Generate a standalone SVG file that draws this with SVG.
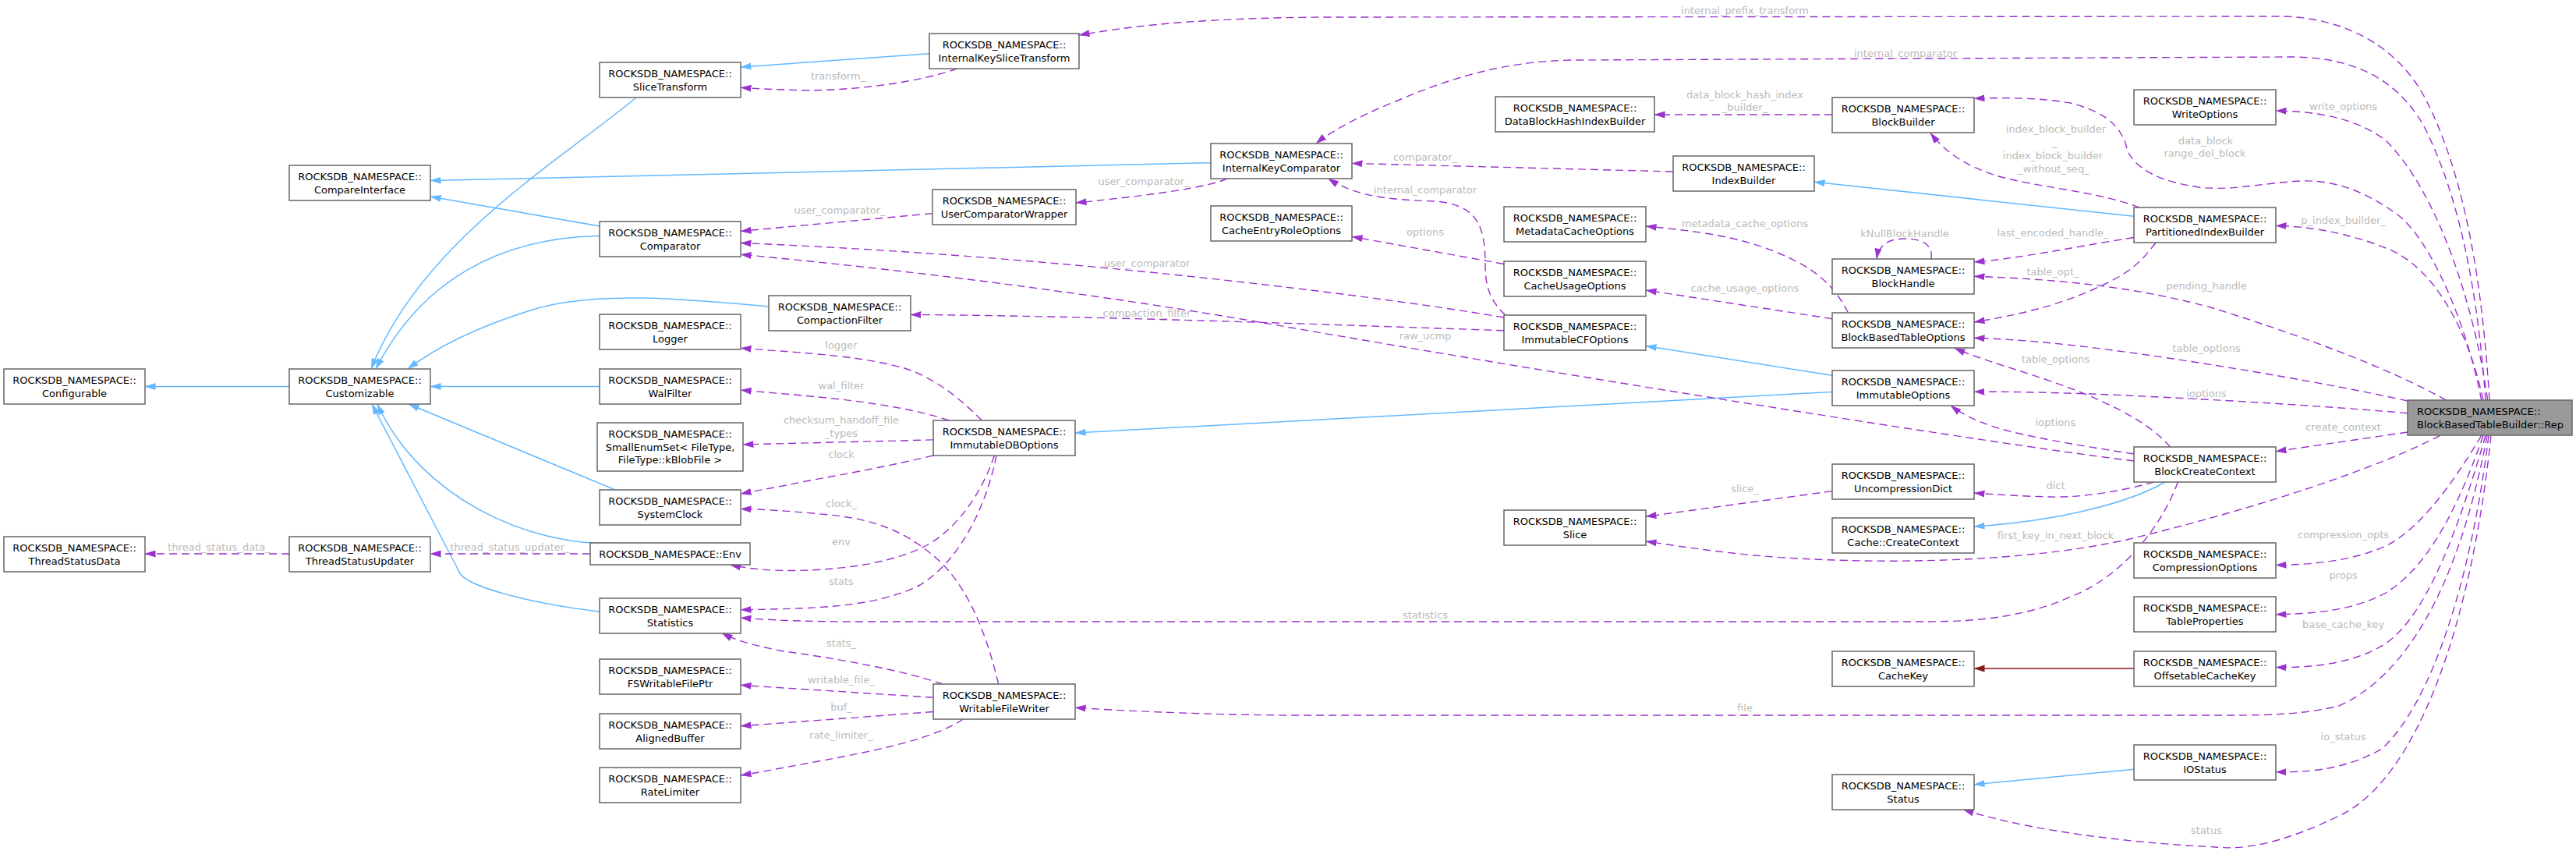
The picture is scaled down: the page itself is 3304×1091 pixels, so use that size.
<svg xmlns="http://www.w3.org/2000/svg" width="3304" height="1091" viewBox="0 0 3304 1091">
<style>
.n rect{fill:#fff;stroke:#666;stroke-width:1.5}
.rep rect{fill:#999;stroke:#666;stroke-width:1.5}
text{font-family:"DejaVu Sans","Liberation Sans",sans-serif;font-size:13px}
.n text,.rep text{fill:#000;text-anchor:middle}
.rep text{text-anchor:start}
.l{fill:#bababa;text-anchor:middle}
.u{fill:none;stroke:#9a32cd;stroke-width:1.4;stroke-dasharray:10,6;marker-end:url(#ap)}
.i{fill:none;stroke:#63b8ff;stroke-width:1.5;marker-end:url(#ab)}
.r{fill:none;stroke:#8b1a1a;stroke-width:1.5;marker-end:url(#ar)}
</style>
<defs>
<marker id="ap" viewBox="0 0 14 10" refX="13.5" refY="5" markerWidth="14" markerHeight="10" markerUnits="userSpaceOnUse" orient="auto"><path d="M0,0.5 L14,5 L0,9.5 z" fill="#9a32cd"/></marker>
<marker id="ab" viewBox="0 0 14 10" refX="13.5" refY="5" markerWidth="14" markerHeight="10" markerUnits="userSpaceOnUse" orient="auto"><path d="M0,0.5 L14,5 L0,9.5 z" fill="#63b8ff"/></marker>
<marker id="ar" viewBox="0 0 14 10" refX="13.5" refY="5" markerWidth="14" markerHeight="10" markerUnits="userSpaceOnUse" orient="auto"><path d="M0,0.5 L14,5 L0,9.5 z" fill="#8b1a1a"/></marker>
</defs>
<rect width="3304" height="1091" fill="#fff"/>
<g id="edges">
<path class="i" d="M371,495.5 L186,495.5"/>
<path class="i" d="M816,125 C 720,205 540,310 476,473"/>
<path class="i" d="M769,290 L552,252"/>
<path class="i" d="M1553,208.7 L552,231.5"/>
<path class="i" d="M769,302.4 C 640,305 540,360 482,473"/>
<path class="i" d="M986,393 C 880,383 760,372 680,398 C 610,420 560,445 523,473"/>
<path class="i" d="M769,495.5 L552,495.5"/>
<path class="i" d="M789,628 L524,518"/>
<path class="i" d="M787,696.4 C 680,700 540,640 484,518"/>
<path class="i" d="M769,784 C 680,774 600,752 590,735 L477,518"/>
<path class="i" d="M1192,68.8 L950,86"/>
<path class="i" d="M2737,277.3 L2327,233.3"/>
<path class="i" d="M2350,481.3 L2111,443.5"/>
<path class="i" d="M2350,502.4 L1379,555"/>
<path class="i" d="M2777,618 C 2730,645 2640,668 2532,675"/>
<path class="i" d="M2737,986.3 L2532,1005.8"/>
<path class="r" d="M2737,857 L2532,857"/>

<path class="u" d="M3193,513 C 3185,380 3165,230 3110,125 C 3075,60 3010,24 2930,21 L1700,22 C 1560,23 1470,30 1384,45"/>
<text class="l" x="2238" y="18">internal_prefix_transform</text>
<path class="u" d="M3188,513 C 3180,400 3160,260 3108,160 C 3070,95 3010,73 2938,73 L2020,77 C 1930,78 1860,100 1790,130 C 1740,150 1705,170 1688,184"/>
<text class="l" x="2444" y="72.5">internal_comparator</text>
<path class="u" d="M1574,229 C 1550,240 1480,250 1380,260"/>
<text class="l" x="1467" y="236.5">user_comparator_</text>
<path class="u" d="M1196,273.6 L950,296.4"/>
<text class="l" x="1077" y="273.5">user_comparator_</text>
<path class="u" d="M1929,407 C 1800,385 1400,330 950,311.5"/>
<text class="l" x="1471" y="342">user_comparator</text>
<path class="u" d="M1929,423.8 C 1700,416 1400,405 1168,403.4"/>
<text class="l" x="1471" y="405.5">compaction_filter</text>
<path class="u" d="M2737,591 C 2550,568 2000,480 1650,419 C 1400,375 1150,345 950,326.2"/>
<text class="l" x="1828" y="435">raw_ucmp</text>
<path class="u" d="M1931,404 C 1910,385 1905,365 1905,340 C 1905,290 1895,262 1840,258 C 1780,256 1740,252 1703.5,229"/>
<text class="l" x="1828" y="248">internal_comparator</text>
<path class="u" d="M1929,338.5 L1734,303.4"/>
<text class="l" x="1828" y="302">options</text>
<path class="u" d="M2370.5,401 C 2350,360 2320,340 2275,322 C 2220,300 2160,295 2111,290"/>
<text class="l" x="2238" y="290.5">metadata_cache_options</text>
<path class="u" d="M2350,408.7 L2111,372"/>
<text class="l" x="2238" y="374">cache_usage_options</text>
<path class="u" d="M2350,147 L2122,147"/>
<text class="l" x="2238" y="125.5">data_block_hash_index</text>
<text class="l" x="2238" y="142">_builder_</text>
<path class="u" d="M2146,220 L1734,209.4"/>
<text class="l" x="1828" y="205.5">comparator_</text>
<path class="u" d="M2477,332 C 2480,310 2460,306 2443,306 C 2425,306 2410,312 2407,332"/>
<text class="l" x="2443" y="303.5">kNullBlockHandle</text>
<path class="u" d="M2744,266 C 2690,245 2610,240 2560,225 C 2520,212 2495,195 2476,170.5"/>
<text class="l" x="2637" y="169.5">index_block_builder</text>
<text class="l" x="2635" y="186.5">_</text>
<text class="l" x="2633" y="203.5">index_block_builder</text>
<text class="l" x="2634" y="220.5">_without_seq_</text>
<path class="u" d="M3182.7,513 C 3165,420 3120,310 3075,275 C 3040,250 3000,230 2950,232 C 2900,235 2860,245 2820,240 C 2770,233 2735,215 2728,190 C 2720,160 2700,145 2660,133 C 2620,125 2570,125 2532,126.3"/>
<text class="l" x="2829" y="184.5">data_block</text>
<text class="l" x="2828" y="201">range_del_block</text>
<path class="u" d="M2737,304.5 C 2650,318 2600,330 2532,336"/>
<text class="l" x="2633" y="302.5">last_encoded_handle_</text>
<path class="u" d="M2765,311 C 2740,345 2720,355 2682.8,372 C 2630,395 2580,405 2532,413"/>
<text class="l" x="2633" y="352.5">table_opt_</text>
<path class="u" d="M3137.5,513 C 3060,470 2950,430 2842,396 C 2750,370 2650,358 2532,354.3"/>
<text class="l" x="2830" y="370.5">pending_handle</text>
<path class="u" d="M3088,514 C 2980,490 2800,460 2682.8,445.5 C 2620,438 2580,435 2532,433.2"/>
<text class="l" x="2830" y="451">table_options</text>
<path class="u" d="M3088,529.7 C 2950,518 2800,510 2682.8,505 C 2620,503 2580,502 2532,502.3"/>
<text class="l" x="2830" y="508.5">ioptions</text>
<path class="u" d="M3088,554 L2919,578.7"/>
<text class="l" x="3005.6" y="552">create_context</text>
<path class="u" d="M2762.6,618 C 2720,630 2670,638 2629.6,637 C 2590,636 2560,634 2532,632"/>
<text class="l" x="2636.5" y="627">dict</text>
<path class="u" d="M3129.6,558.3 C 3050,600 2900,650 2736,690 C 2600,722 2400,725 2250,712 C 2180,705 2140,698 2111,694"/>
<text class="l" x="2636.5" y="690.5">first_key_in_next_block</text>
<path class="u" d="M2793.4,618 C 2770,680 2720,740 2656,765 C 2600,790 2540,797 2470,797 L1100,797 C 1030,797 990,795 950,792"/>
<text class="l" x="1828" y="792.5">statistics</text>
<path class="u" d="M3182.7,558.3 C 3140,630 3100,680 3060,700 C 3020,718 2970,724 2919,724.5"/>
<text class="l" x="3005.6" y="690">compression_opts</text>
<path class="u" d="M3185,558.3 C 3150,660 3110,730 3060,760 C 3020,782 2970,787 2919,787.7"/>
<text class="l" x="3005.6" y="742">props</text>
<path class="u" d="M3188,558.3 C 3150,690 3110,790 3060,825 C 3020,850 2970,856 2919,855.6"/>
<text class="l" x="3005.6" y="804.5">base_cache_key</text>
<path class="u" d="M3190,558.3 C 3160,720 3100,860 3000,905 C 2950,917 2900,917 2850,917 L1650,917 C 1550,916 1450,912 1379,907.2"/>
<text class="l" x="2238" y="912">file</text>
<path class="u" d="M3192,558.3 C 3170,740 3120,900 3055,960 C 3010,985 2970,990 2919,989.8"/>
<text class="l" x="3005.6" y="948.5">io_status</text>
<path class="u" d="M3195,558.3 C 3170,800 3100,1000 3000,1046 C 2930,1080 2880,1090 2842,1086 C 2760,1082 2620,1070 2518,1038"/>
<text class="l" x="2830" y="1069">status</text>
<path class="u" d="M3190.7,513 C 3175,400 3130,250 3060,180 C 3020,150 2970,143 2919,142"/>
<text class="l" x="3005.6" y="141">write_options</text>
<path class="u" d="M3185,513 C 3165,420 3120,340 3060,318 C 3010,298 2960,290 2919,289.4"/>
<text class="l" x="3005.6" y="287">p_index_builder_</text>
<path class="u" d="M2737,582 C 2660,570 2600,560 2560,548 C 2535,540 2515,530 2502,520"/>
<text class="l" x="2636.5" y="545.5">ioptions</text>
<path class="u" d="M2783.8,573.4 C 2760,545 2720,525 2682.8,508.7 C 2620,482 2550,465 2507,446.5"/>
<text class="l" x="2636.5" y="464.5">table_options</text>
<path class="u" d="M2350,629.6 L2111,662.3"/>
<text class="l" x="2238" y="630.5">slice_</text>
<path class="u" d="M1227.6,88 C 1180,105 1100,116 1031.8,115.8 C 1000,115 975,114 950,112.3"/>
<text class="l" x="1075" y="102">transform_</text>
<path class="u" d="M1259.4,539 C 1230,510 1200,485 1160,472 C 1100,455 1020,452 950,446.2"/>
<text class="l" x="1079" y="447">logger</text>
<path class="u" d="M1217,539 C 1180,526 1120,516 1060,510 C 1010,505 980,503 950,500"/>
<text class="l" x="1079" y="498.5">wal_filter</text>
<path class="u" d="M1197,563.9 L953,569.9"/>
<text class="l" x="1079" y="543">checksum_handoff_file</text>
<text class="l" x="1079" y="560">_types</text>
<path class="u" d="M1197,584 C 1130,600 1060,612 1031.8,617.3 C 1000,624 975,628 950,633.1"/>
<text class="l" x="1079" y="587">clock</text>
<path class="u" d="M1280.6,877 C 1265,810 1240,750 1201,715.7 C 1160,680 1120,665 1058,659.5 C 1010,655 980,653 950,652.4"/>
<text class="l" x="1079" y="650">clock_</text>
<path class="u" d="M1275.3,584 C 1260,630 1230,675 1190.6,698 C 1150,720 1090,730 1021,731.5 C 985,732 960,729 936.5,724"/>
<text class="l" x="1079" y="699">env</text>
<path class="u" d="M1278,584 C 1265,650 1230,720 1180,750 C 1120,780 1040,780 950,781.8"/>
<text class="l" x="1079" y="750">stats</text>
<path class="u" d="M1209,877 C 1160,860 1080,845 1005,835 C 970,828 945,822 926,811.5"/>
<text class="l" x="1079" y="828.5">stats_</text>
<path class="u" d="M1197,894.2 L950,878.4"/>
<text class="l" x="1079" y="876">writable_file_</text>
<path class="u" d="M1197,912.5 L950,930.8"/>
<text class="l" x="1079" y="910.5">buf_</text>
<path class="u" d="M1235.6,922 C 1200,945 1140,960 1031.8,979.2 C 1000,985 975,990 950,994"/>
<text class="l" x="1079" y="947">rate_limiter_</text>
<path class="u" d="M757,710 L552,710"/>
<text class="l" x="654" y="706">thread_status_updater_</text>
<path class="u" d="M371,710 L186,710"/>
<text class="l" x="281" y="706">thread_status_data_</text>
</g>

<g id="n_Configurable" class="n"><rect x="5" y="473" width="181" height="45"/><text x="95.5" y="492">ROCKSDB_NAMESPACE::</text><text x="95.5" y="508.5">Configurable</text></g>
<g id="n_Customizable" class="n"><rect x="371" y="473" width="181" height="45"/><text x="461.5" y="492">ROCKSDB_NAMESPACE::</text><text x="461.5" y="508.5">Customizable</text></g>
<g id="n_CompareInterface" class="n"><rect x="371" y="212" width="181" height="45"/><text x="461.5" y="231">ROCKSDB_NAMESPACE::</text><text x="461.5" y="247.5">CompareInterface</text></g>
<g id="n_ThreadStatusData" class="n"><rect x="5" y="688" width="181" height="45"/><text x="95.5" y="707">ROCKSDB_NAMESPACE::</text><text x="95.5" y="723.5">ThreadStatusData</text></g>
<g id="n_ThreadStatusUpdater" class="n"><rect x="371" y="688" width="181" height="45"/><text x="461.5" y="707">ROCKSDB_NAMESPACE::</text><text x="461.5" y="723.5">ThreadStatusUpdater</text></g>
<g id="n_SliceTransform" class="n"><rect x="769" y="80" width="181" height="45"/><text x="859.5" y="99">ROCKSDB_NAMESPACE::</text><text x="859.5" y="115.5">SliceTransform</text></g>
<g id="n_Comparator" class="n"><rect x="769" y="284" width="181" height="45"/><text x="859.5" y="303">ROCKSDB_NAMESPACE::</text><text x="859.5" y="319.5">Comparator</text></g>
<g id="n_Logger" class="n"><rect x="769" y="403" width="181" height="45"/><text x="859.5" y="422">ROCKSDB_NAMESPACE::</text><text x="859.5" y="438.5">Logger</text></g>
<g id="n_WalFilter" class="n"><rect x="769" y="473" width="181" height="45"/><text x="859.5" y="492">ROCKSDB_NAMESPACE::</text><text x="859.5" y="508.5">WalFilter</text></g>
<g id="n_SmallEnumSet" class="n"><rect x="766" y="542" width="187" height="62"/><text x="859.5" y="561">ROCKSDB_NAMESPACE::</text><text x="859.5" y="577.5">SmallEnumSet&lt; FileType,</text><text x="859.5" y="594">FileType::kBlobFile &gt;</text></g>
<g id="n_SystemClock" class="n"><rect x="769" y="628" width="181" height="45"/><text x="859.5" y="647">ROCKSDB_NAMESPACE::</text><text x="859.5" y="663.5">SystemClock</text></g>
<g id="n_Env" class="n"><rect x="757" y="696" width="205" height="28"/><text x="859.5" y="714.5">ROCKSDB_NAMESPACE::Env</text></g>
<g id="n_Statistics" class="n"><rect x="769" y="767" width="181" height="45"/><text x="859.5" y="786">ROCKSDB_NAMESPACE::</text><text x="859.5" y="802.5">Statistics</text></g>
<g id="n_FSWritableFilePtr" class="n"><rect x="769" y="845" width="181" height="45"/><text x="859.5" y="864">ROCKSDB_NAMESPACE::</text><text x="859.5" y="880.5">FSWritableFilePtr</text></g>
<g id="n_AlignedBuffer" class="n"><rect x="769" y="915" width="181" height="45"/><text x="859.5" y="934">ROCKSDB_NAMESPACE::</text><text x="859.5" y="950.5">AlignedBuffer</text></g>
<g id="n_RateLimiter" class="n"><rect x="769" y="984" width="181" height="45"/><text x="859.5" y="1003">ROCKSDB_NAMESPACE::</text><text x="859.5" y="1019.5">RateLimiter</text></g>
<g id="n_InternalKeySliceTransform" class="n"><rect x="1192" y="43" width="192" height="45"/><text x="1288" y="62">ROCKSDB_NAMESPACE::</text><text x="1288" y="78.5">InternalKeySliceTransform</text></g>
<g id="n_UserComparatorWrapper" class="n"><rect x="1196" y="243" width="184" height="45"/><text x="1288" y="262">ROCKSDB_NAMESPACE::</text><text x="1288" y="278.5">UserComparatorWrapper</text></g>
<g id="n_CompactionFilter" class="n"><rect x="986" y="379" width="182" height="45"/><text x="1077" y="398">ROCKSDB_NAMESPACE::</text><text x="1077" y="414.5">CompactionFilter</text></g>
<g id="n_ImmutableDBOptions" class="n"><rect x="1197" y="539" width="182" height="45"/><text x="1288" y="558">ROCKSDB_NAMESPACE::</text><text x="1288" y="574.5">ImmutableDBOptions</text></g>
<g id="n_WritableFileWriter" class="n"><rect x="1197" y="877" width="182" height="45"/><text x="1288" y="896">ROCKSDB_NAMESPACE::</text><text x="1288" y="912.5">WritableFileWriter</text></g>
<g id="n_InternalKeyComparator" class="n"><rect x="1553" y="184" width="181" height="45"/><text x="1643.5" y="203">ROCKSDB_NAMESPACE::</text><text x="1643.5" y="219.5">InternalKeyComparator</text></g>
<g id="n_CacheEntryRoleOptions" class="n"><rect x="1553" y="264" width="181" height="45"/><text x="1643.5" y="283">ROCKSDB_NAMESPACE::</text><text x="1643.5" y="299.5">CacheEntryRoleOptions</text></g>
<g id="n_DataBlockHashIndexBuilder" class="n"><rect x="1918" y="124" width="204" height="45"/><text x="2020" y="143">ROCKSDB_NAMESPACE::</text><text x="2020" y="159.5">DataBlockHashIndexBuilder</text></g>
<g id="n_IndexBuilder" class="n"><rect x="2146" y="200" width="181" height="45"/><text x="2236.5" y="219">ROCKSDB_NAMESPACE::</text><text x="2236.5" y="235.5">IndexBuilder</text></g>
<g id="n_MetadataCacheOptions" class="n"><rect x="1929" y="265" width="182" height="45"/><text x="2020" y="284">ROCKSDB_NAMESPACE::</text><text x="2020" y="300.5">MetadataCacheOptions</text></g>
<g id="n_CacheUsageOptions" class="n"><rect x="1929" y="335" width="182" height="45"/><text x="2020" y="354">ROCKSDB_NAMESPACE::</text><text x="2020" y="370.5">CacheUsageOptions</text></g>
<g id="n_ImmutableCFOptions" class="n"><rect x="1929" y="404" width="182" height="45"/><text x="2020" y="423">ROCKSDB_NAMESPACE::</text><text x="2020" y="439.5">ImmutableCFOptions</text></g>
<g id="n_Slice" class="n"><rect x="1929" y="654" width="182" height="45"/><text x="2020" y="673">ROCKSDB_NAMESPACE::</text><text x="2020" y="689.5">Slice</text></g>
<g id="n_BlockBuilder" class="n"><rect x="2350" y="125" width="182" height="45"/><text x="2441" y="144">ROCKSDB_NAMESPACE::</text><text x="2441" y="160.5">BlockBuilder</text></g>
<g id="n_BlockHandle" class="n"><rect x="2350" y="332" width="182" height="45"/><text x="2441" y="351">ROCKSDB_NAMESPACE::</text><text x="2441" y="367.5">BlockHandle</text></g>
<g id="n_BlockBasedTableOptions" class="n"><rect x="2350" y="401" width="182" height="45"/><text x="2441" y="420">ROCKSDB_NAMESPACE::</text><text x="2441" y="436.5">BlockBasedTableOptions</text></g>
<g id="n_ImmutableOptions" class="n"><rect x="2350" y="475" width="182" height="45"/><text x="2441" y="494">ROCKSDB_NAMESPACE::</text><text x="2441" y="510.5">ImmutableOptions</text></g>
<g id="n_UncompressionDict" class="n"><rect x="2350" y="595" width="182" height="45"/><text x="2441" y="614">ROCKSDB_NAMESPACE::</text><text x="2441" y="630.5">UncompressionDict</text></g>
<g id="n_CreateContext" class="n"><rect x="2350" y="664" width="182" height="45"/><text x="2441" y="683">ROCKSDB_NAMESPACE::</text><text x="2441" y="699.5">Cache::CreateContext</text></g>
<g id="n_CacheKey" class="n"><rect x="2350" y="835" width="182" height="45"/><text x="2441" y="854">ROCKSDB_NAMESPACE::</text><text x="2441" y="870.5">CacheKey</text></g>
<g id="n_Status" class="n"><rect x="2350" y="993" width="182" height="45"/><text x="2441" y="1012">ROCKSDB_NAMESPACE::</text><text x="2441" y="1028.5">Status</text></g>
<g id="n_WriteOptions" class="n"><rect x="2737" y="115" width="182" height="45"/><text x="2828" y="134">ROCKSDB_NAMESPACE::</text><text x="2828" y="150.5">WriteOptions</text></g>
<g id="n_PartitionedIndexBuilder" class="n"><rect x="2737" y="266" width="182" height="45"/><text x="2828" y="285">ROCKSDB_NAMESPACE::</text><text x="2828" y="301.5">PartitionedIndexBuilder</text></g>
<g id="n_BlockCreateContext" class="n"><rect x="2737" y="573" width="182" height="45"/><text x="2828" y="592">ROCKSDB_NAMESPACE::</text><text x="2828" y="608.5">BlockCreateContext</text></g>
<g id="n_CompressionOptions" class="n"><rect x="2737" y="696" width="182" height="45"/><text x="2828" y="715">ROCKSDB_NAMESPACE::</text><text x="2828" y="731.5">CompressionOptions</text></g>
<g id="n_TableProperties" class="n"><rect x="2737" y="765" width="182" height="45"/><text x="2828" y="784">ROCKSDB_NAMESPACE::</text><text x="2828" y="800.5">TableProperties</text></g>
<g id="n_OffsetableCacheKey" class="n"><rect x="2737" y="835" width="182" height="45"/><text x="2828" y="854">ROCKSDB_NAMESPACE::</text><text x="2828" y="870.5">OffsetableCacheKey</text></g>
<g id="n_IOStatus" class="n"><rect x="2737" y="955" width="182" height="45"/><text x="2828" y="974">ROCKSDB_NAMESPACE::</text><text x="2828" y="990.5">IOStatus</text></g>
<g id="n_Rep" class="rep"><rect x="3088" y="513" width="211" height="45"/><text x="3100" y="532">ROCKSDB_NAMESPACE::</text><text x="3100" y="548.5">BlockBasedTableBuilder::Rep</text></g>
</svg>
